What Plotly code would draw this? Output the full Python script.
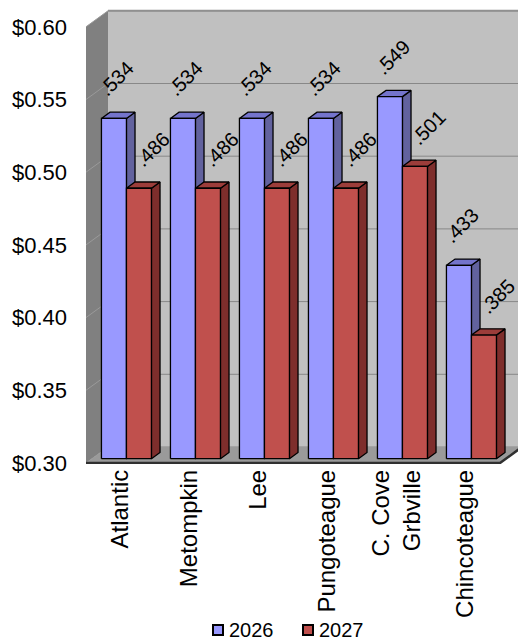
import plotly.graph_objects as go

# ---- data -------------------------------------------------------------
categories = ["Atlantic", "Metompkin", "Lee", "Pungoteague",
              "C. Cove<br>Grbville", "Chincoteague"]
rate_2026 = [0.534, 0.534, 0.534, 0.534, 0.549, 0.433]
rate_2027 = [0.486, 0.486, 0.486, 0.486, 0.501, 0.385]
series_names = ["2026", "2027"]
y_ticks = [0.30, 0.35, 0.40, 0.45, 0.50, 0.55, 0.60]

# ---- styling / pseudo-3D projection -------------------------------------
FONT = "Arial, Liberation Sans, sans-serif"
W, H = 518, 641
M_L, M_T, PLOT_BOTTOM = 86, 8, 464
Y_MIN, Y_MAX = 0.30, 0.60
PX_PER_CAT = 69.0                      # horizontal pixels per category
PX_PER_UNIT = 436.2 / (Y_MAX - Y_MIN)  # vertical pixels per dollar
DX = 22.0 / PX_PER_CAT                 # full-depth horizontal shift (x units)
DY = 16.0 / PX_PER_UNIT                # full-depth vertical shift (y units)
BAR_W = 25.0 / PX_PER_CAT
BAR_D0 = 0.27                          # depth of bar front faces
BAR_DEPTH = 0.39                       # bar thickness along depth
X_LO, X_HI = -0.5, len(categories) - 0.5
PLOT_W = W - M_L
PLOT_H = PLOT_BOTTOM - M_T

front_cols = ["#9999FF", "#C0504D"]
top_cols = ["#7474CC", "#9C3D3A"]
side_cols = ["#62629E", "#7E2E2C"]


def poly_trace(polys, color):
    xs, ys = [], []
    for p in polys:
        for (px, py) in p + [p[0]]:
            xs.append(px)
            ys.append(py)
        xs.append(None)
        ys.append(None)
    return go.Scatter(x=xs, y=ys, mode="lines", fill="toself",
                      fillcolor=color, line=dict(color="black", width=1.3),
                      hoverinfo="skip", showlegend=False)


fig = go.Figure()

ox, oy = DX * BAR_D0, DY * BAR_D0
bx, by = DX * BAR_DEPTH, DY * BAR_DEPTH
annotations = []
for s, vals in enumerate([rate_2026, rate_2027]):
    fronts, tops, sides = [], [], []
    for i, v in enumerate(vals):
        xl = i - BAR_W + s * BAR_W + ox
        xr = xl + BAR_W
        yb = Y_MIN + oy
        yt = v + oy
        fronts.append([(xl, yb), (xr, yb), (xr, yt), (xl, yt)])
        tops.append([(xl, yt), (xr, yt), (xr + bx, yt + by), (xl + bx, yt + by)])
        sides.append([(xr, yb), (xr + bx, yb + by), (xr + bx, yt + by), (xr, yt)])
        annotations.append(dict(
            x=(xl + xr) / 2, y=yt, xref="x", yref="y",
            text=f"{v:.3f}".lstrip("0"), showarrow=False, textangle=-45,
            xanchor="center", yanchor="middle",
            xshift=3 if s == 0 else 14, yshift=40 if s == 0 else 39,
            font=dict(family=FONT, size=20, color="black")))
    fig.add_trace(poly_trace(sides, side_cols[s]))
    fig.add_trace(poly_trace(tops, top_cols[s]))
    fig.add_trace(poly_trace(fronts, front_cols[s]))

# ---- walls, floor and gridlines ----------------------------------------
shapes = []
# back wall
shapes.append(dict(type="rect", xref="x", yref="y", layer="below",
                   x0=X_LO + DX, x1=X_HI + DX + 0.5, y0=Y_MIN + DY, y1=Y_MAX + DY,
                   fillcolor="#C0C0C0", line=dict(width=0)))
# left wall
shapes.append(dict(type="path", xref="x", yref="y", layer="below",
                   path=(f"M{X_LO},{Y_MIN} L{X_LO},{Y_MAX} "
                         f"L{X_LO + DX},{Y_MAX + DY} L{X_LO + DX},{Y_MIN + DY} Z"),
                   fillcolor="#808080", line=dict(width=0)))
# gridlines on back and left walls
for t in y_ticks:
    shapes.append(dict(type="line", xref="x", yref="y", layer="below",
                       x0=X_LO + DX, x1=X_HI + DX + 0.5, y0=t + DY, y1=t + DY,
                       line=dict(color="#888888", width=1)))
    shapes.append(dict(type="line", xref="x", yref="y", layer="below",
                       x0=X_LO, x1=X_LO + DX, y0=t, y1=t + DY,
                       line=dict(color="#9A9A9A", width=1)))
# top edge of back wall
shapes.append(dict(type="line", xref="x", yref="y", layer="below",
                   x0=X_LO + DX, x1=X_HI + DX + 0.5, y0=Y_MAX + DY, y1=Y_MAX + DY,
                   line=dict(color="#909090", width=2)))
# floor
shapes.append(dict(type="path", xref="x", yref="y", layer="below",
                   path=(f"M{X_LO},{Y_MIN} L{X_HI},{Y_MIN} "
                         f"L{X_HI + DX},{Y_MIN + DY} L{X_LO + DX},{Y_MIN + DY} Z"),
                   fillcolor="#9A9A9A", line=dict(width=0)))
shapes.append(dict(type="path", xref="x", yref="y", layer="below",
                   path=(f"M{X_LO},{Y_MIN} L{X_HI},{Y_MIN} "
                         f"L{X_HI + DX},{Y_MIN + DY}"),
                   line=dict(color="#303030", width=2.5)))

# ---- legend (swatch + label per series) ---------------------------------
legend_px = [(218, 227), (308, 317)]   # swatch centre, label start
LEG_Y = 630
for s, name in enumerate(series_names):
    cx, tx = legend_px[s]
    shapes.append(dict(type="rect", xref="paper", yref="paper",
                       x0=(cx - 5 - M_L) / PLOT_W, x1=(cx + 5 - M_L) / PLOT_W,
                       y0=(PLOT_BOTTOM - LEG_Y - 5) / PLOT_H,
                       y1=(PLOT_BOTTOM - LEG_Y + 5) / PLOT_H,
                       fillcolor=front_cols[s], line=dict(color="black", width=2)))
    annotations.append(dict(
        x=(tx - M_L) / PLOT_W, y=(PLOT_BOTTOM - LEG_Y) / PLOT_H,
        xref="paper", yref="paper", text=name, showarrow=False,
        xanchor="left", yanchor="middle",
        font=dict(family=FONT, size=20, color="black")))

fig.update_layout(
    width=W, height=H,
    margin=dict(l=M_L, r=0, t=M_T, b=H - PLOT_BOTTOM),
    paper_bgcolor="white", plot_bgcolor="rgba(0,0,0,0)",
    shapes=shapes, annotations=annotations,
    font=dict(family=FONT, size=21, color="black"),
    showlegend=False,
    xaxis=dict(range=[X_LO, X_LO + PLOT_W / PX_PER_CAT], automargin=False,
               tickmode="array", tickvals=list(range(len(categories))),
               ticktext=categories, tickangle=-90, showgrid=False,
               zeroline=False, showline=False, ticks="",
               tickfont=dict(family=FONT, size=24)),
    yaxis=dict(range=[Y_MIN - (PLOT_BOTTOM - 463) / PX_PER_UNIT,
                      Y_MIN + (463 - M_T) / PX_PER_UNIT], automargin=False,
               tickmode="array", tickvals=y_ticks, tickformat="$.2f",
               showgrid=False, zeroline=False, showline=False, ticks="",
               ticklabelstandoff=18, tickfont=dict(family=FONT, size=22)),
)

fig.write_html("out.html")
